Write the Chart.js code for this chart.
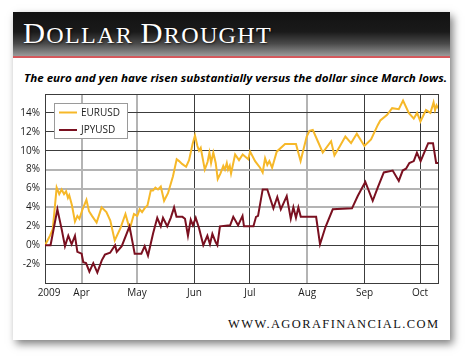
<!DOCTYPE html>
<html><head><meta charset="utf-8">
<script src="https://cdn.jsdelivr.net/npm/chart.js@4.4.0/dist/chart.umd.min.js"></script>
<style>
html,body{margin:0;padding:0;background:#fff;width:470px;height:361px;overflow:hidden;}
#card{position:absolute;left:13px;top:12px;width:437px;height:328px;background:#fff;box-shadow:3px 4px 8px rgba(0,0,0,0.5);}
#hdr{position:absolute;left:13px;top:12px;width:437px;height:44px;background:linear-gradient(to bottom,#121212 0%,#1a1a1a 45%,#4a4a4a 72%,#9a9a9a 100%);}
#red{position:absolute;left:13px;top:56px;width:437px;height:2px;background:#d4585c;}
.txt{position:absolute;white-space:nowrap;line-height:0;height:0;transform-origin:left center;}
#title{left:23px;top:34px;color:#fff;font-family:"Liberation Serif",serif;text-shadow:1px 1px 2px rgba(0,0,0,0.6);letter-spacing:1.2px;}
#title .b{font-size:28.5px;} #title .s{font-size:22.5px;}
#sub{left:24px;top:78px;color:#000;font-family:"Open Sans",sans-serif;font-weight:bold;font-style:italic;font-size:11px;}
#url{left:228px;top:324px;color:#111;font-family:"Liberation Serif",serif;font-size:12.5px;}
canvas{position:absolute;left:0;top:0;}
</style></head>
<body>
<div id="card"></div>
<div id="hdr"></div>
<div id="red"></div>
<div id="title" class="txt"><span class="b">D</span><span class="s">OLLAR</span><span class="s"> </span><span class="b">D</span><span class="s">ROUGHT</span></div>
<div id="sub" class="txt">The euro and yen have risen substantially versus the dollar since March lows.</div>
<div id="url" class="txt">WWW.AGORAFINANCIAL.COM</div>
<canvas id="c" width="470" height="361"></canvas>
<script>
// x = calendar day counted from 1 Mar 2009 (1 Apr = 31, 1 May = 61, ...)
const eurDays = [11.2,13.9,15.4,17.5,18.9,20.2,21.5,22.6,23.6,24.3,25.8,27.4,28.7,29.8,31.5,33.6,35.0,36.6,39.1,41.8,44.4,46.5,48.9,52.0,54.7,57.0,59.3,61.1,62.4,63.7,65.4,66.6,68.4,69.6,70.9,72.3,73.8,75.6,77.7,80.4,82.4,83.7,85.3,87.5,89.1,91.0,92.3,93.6,94.5,95.4,97.6,99.1,100.1,101.0,102.2,103.5,104.6,106.1,107.6,108.5,109.5,110.2,111.1,111.8,114.0,116.1,118.1,121.1,122.1,124.8,127.5,128.9,130.2,131.4,132.5,134.0,136.5,141.0,146.9,149.4,152.7,154.2,156.0,158.7,161.4,165.9,167.7,170.4,173.6,176.7,179.8,183.9,187.5,191.1,192.5,196.2,198.9,202.5,204.8,207.9,210.6,212.4,214.2,217.2,219.6,221.3,222.1,222.9,223.7];
const eurVals = [0.0,1.0,1.7,6.1,5.4,5.9,5.4,5.7,5.0,5.3,4.2,2.5,3.1,2.8,3.8,4.8,3.6,3.1,2.4,4.0,3.5,2.6,0.5,1.8,3.3,1.7,3.3,3.1,3.8,3.5,4.0,4.2,5.8,5.8,6.1,5.9,6.2,4.7,5.5,7.3,9.1,8.9,8.6,8.3,9.0,10.7,11.6,10.5,10.0,10.3,8.0,8.8,9.8,8.7,9.8,8.7,7.0,7.6,8.4,8.0,8.7,8.0,8.4,7.6,9.6,9.0,9.6,9.1,9.9,8.9,8.2,7.7,9.2,8.5,8.9,8.2,9.9,10.7,10.7,8.9,11.5,12.1,12.2,11.0,9.8,11.0,9.5,10.4,11.5,10.8,11.8,10.5,11.2,12.7,13.2,13.8,14.5,14.4,15.3,14.0,13.4,14.0,13.1,14.3,14.0,15.1,14.3,14.8,14.5];
const jpyDays = [11.2,14.2,17.9,20.2,22.0,23.8,25.6,27.4,28.7,31.0,31.9,33.4,35.2,37.3,39.5,41.9,43.6,46.4,49.1,50.0,52.7,56.9,59.7,63.3,65.1,66.9,69.6,71.9,73.8,75.0,77.3,79.2,81.0,82.3,85.5,86.9,88.5,90.0,91.2,92.7,94.5,96.8,99.0,100.4,101.7,103.5,104.4,105.8,111.3,113.0,115.6,118.0,118.8,123.9,125.3,126.4,128.9,131.4,134.7,136.8,138.7,141.9,144.1,145.5,146.9,148.2,149.5,155.4,157.8,159.9,162.8,166.8,177.2,180.3,184.4,188.4,191.1,194.4,199.2,202.5,204.6,206.4,208.2,210.6,212.3,214.3,218.4,221.0,222.7,223.7];
const jpyVals = [0.0,0.0,3.8,1.7,-0.1,1.0,0.1,1.0,-0.7,-0.9,-1.8,-1.9,-2.8,-1.9,-2.9,-1.6,-1.0,-0.8,0.0,-0.7,-0.1,2.0,-0.9,-0.9,-0.1,-1.1,1.2,2.9,2.0,2.9,2.0,2.9,4.0,3.0,3.0,2.8,1.0,2.7,2.1,2.9,1.8,0.0,1.0,0.1,1.2,0.3,0.0,2.0,2.1,3.0,2.1,3.1,2.0,2.0,3.0,3.1,5.9,5.9,3.9,5.1,3.8,5.2,2.8,4.0,2.9,4.0,3.0,3.0,3.0,0.1,1.9,3.8,3.9,5.2,6.7,4.7,6.1,7.7,7.9,6.8,7.9,8.1,8.7,8.9,9.8,8.9,10.8,10.8,8.7,8.7];
const seriesNames = ['EURUSD','JPYUSD'];
const seriesColors = ['#f6b829','#7a1020'];
const xTickDays = [13.4,31,61,92,122,153,184,214,223.7];
const xTickLabels = ['2009','Apr','May','Jun','Jul','Aug','Sep','Oct',''];
const yMin = -4, yMax = 16, yStep = 2;

function pts(xs, ys){ return xs.map((x,i)=>({x:x,y:ys[i]})); }

const legendBox = {
  id:'legendBox',
  afterDatasetsDraw(chart){
    const ctx = chart.ctx, a = chart.chartArea;
    const x = a.left + 9, y = a.top + 9, w = 74, h = 36;
    ctx.save();
    ctx.fillStyle = '#fff'; ctx.fillRect(x, y, w, h);
    ctx.strokeStyle = '#9a9a9a'; ctx.lineWidth = 1;
    ctx.strokeRect(x + 0.5, y + 0.5, w - 1, h - 1);
    ctx.font = '10px "Open Sans"'; ctx.textBaseline = 'middle'; ctx.fillStyle = '#222';
    seriesNames.forEach((n,i)=>{
      const cy = y + 9.5 + i*17.5;
      ctx.strokeStyle = seriesColors[i]; ctx.lineWidth = 2;
      ctx.beginPath(); ctx.moveTo(x + 5, cy); ctx.lineTo(x + 23, cy); ctx.stroke();
      ctx.fillText(n, x + 27, cy + 0.5);
    });
    ctx.restore();
  }
};

const grayX = [31,61,153], grayY = [4,6,8];
new Chart(document.getElementById('c'), {
  type:'line',
  data:{datasets:[
    {label:seriesNames[0], data:pts(eurDays,eurVals), borderColor:seriesColors[0], order:1},
    {label:seriesNames[1], data:pts(jpyDays,jpyVals), borderColor:seriesColors[1], order:0}
  ]},
  options:{
    responsive:false, animation:false, devicePixelRatio:1,
    layout:{padding:{left:0, top:94, right:32, bottom:0}},
    elements:{point:{radius:0}, line:{tension:0, borderWidth:2, fill:false, borderJoinStyle:'miter'}},
    plugins:{legend:{display:false}, tooltip:{enabled:false}},
    scales:{
      x:{type:'linear', min:11.2, max:223.7,
        afterBuildTicks:(s)=>{ s.ticks = xTickDays.map(v=>({value:v})); },
        afterFit:(s)=>{ s.height = 78; },
        ticks:{autoSkip:false, maxRotation:0, padding:4, color:'#1a1a1a', font:{family:'Open Sans', size:10},
          callback:(v,i)=>xTickLabels[i]},
        grid:{drawTicks:false,
          color:(c)=>{ const v=c.tick&&c.tick.value; if(v===13.4) return 'rgba(0,0,0,0)'; return grayX.includes(v)?'#b4b4b4':'#3c3c3c'; },
          lineWidth:(c)=>{ const v=c.tick&&c.tick.value; return grayX.includes(v)?2:1; }},
        border:{display:true, color:'#3c3c3c', width:1}
      },
      y:{min:yMin, max:yMax,
        afterFit:(s)=>{ s.width = 45; },
        ticks:{stepSize:yStep, padding:5, color:'#1a1a1a', font:{family:'Open Sans', size:10},
          callback:(v)=> (v===yMin||v===yMax)?'':v+'%'},
        grid:{drawTicks:false,
          color:(c)=>{ const v=c.tick&&c.tick.value; return grayY.includes(v)?'#b4b4b4':'#3c3c3c'; },
          lineWidth:(c)=>{ const v=c.tick&&c.tick.value; return grayY.includes(v)?2:1; }},
        border:{display:true, color:'#3c3c3c', width:1}
      }
    }
  },
  plugins:[legendBox]
});

// fit header/footer texts to their widths in the reference
function fitSpacing(id, target){
  const el = document.getElementById(id);
  const n = el.textContent.length;
  const w = el.getBoundingClientRect().width;
  el.style.letterSpacing = ((target - w) / (n - 1)) + 'px';
}
function fitScale(id, target){
  const el = document.getElementById(id);
  const w = el.getBoundingClientRect().width;
  el.style.transform = 'scaleX(' + (target / w) + ')';
}
document.fonts.ready.then(()=>{
  fitScale('title', 249);
  fitScale('sub', 423);
  fitSpacing('url', 210);
});
</script>
</body></html>
